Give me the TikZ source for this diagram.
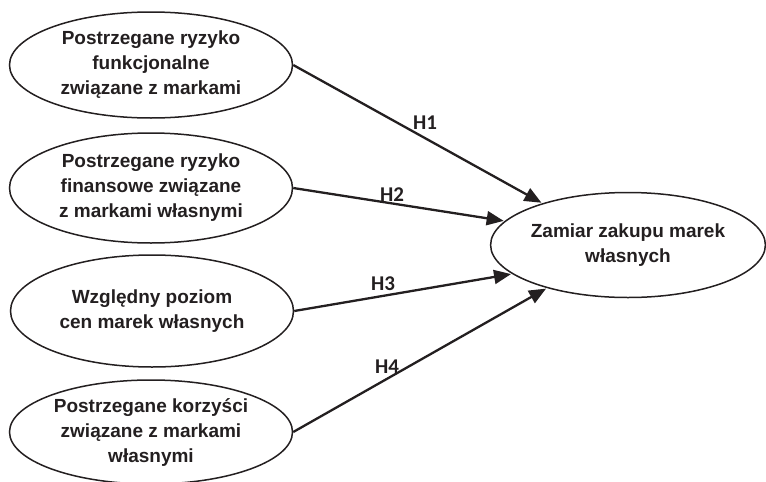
\documentclass[tikz,border=0pt]{standalone}
\usepackage{fontspec}
\setmainfont{Liberation Sans}
\newfontfamily\calib{Carlito}
\usetikzlibrary{shapes.geometric,arrows.meta}
\definecolor{ink}{HTML}{231F20}
\begin{document}
\begin{tikzpicture}[x=1pt,y=-1pt,
 ell/.style={draw=ink, ellipse, line width=1.5pt, inner sep=0pt, align=center,
   minimum width=283pt, minimum height=106pt,
   font=\bfseries\fontsize{19}{25}\selectfont, text=ink},
 arr/.style={draw=ink, line width=2.3pt, -{Triangle[length=17pt,width=14pt]}, shorten >=1pt},
 hlab/.style={font=\calib\bfseries\fontsize{21}{22}\selectfont, text=ink, inner sep=0pt}]
\useasboundingbox (0,0) rectangle (766,482);
\node[ell] (e1) at (151,65) {Postrzegane ryzyko\\funkcjonalne\\związane z markami};
\node[ell, minimum height=110pt] (e2) at (151,188) {Postrzegane ryzyko\\finansowe związane\\z markami własnymi};
\node[ell, minimum height=112pt] (e3) at (152,311) {Względny poziom\\cen marek własnych};
\node[ell, minimum height=104pt] (e4) at (151,432) {Postrzegane korzyści\\związane z markami\\własnymi};
\node[ell, minimum width=274pt, minimum height=105pt] (t) at (628,245) {Zamiar zakupu marek\\własnych};
\draw[arr] (e1.east) -- (t.154);
\draw[arr] (e2.east) -- (t.169);
\draw[arr] (e3.east) -- (t.194);
\draw[arr] (e4.east) -- (t.208);
\node[hlab] (h1) at (425,123) {H1};
\node[hlab] (h2) at (392,195) {H2};
\node[hlab] (h3) at (383,284) {H3};
\node[hlab] (h4) at (387,367) {H4};
\end{tikzpicture}
\end{document}
